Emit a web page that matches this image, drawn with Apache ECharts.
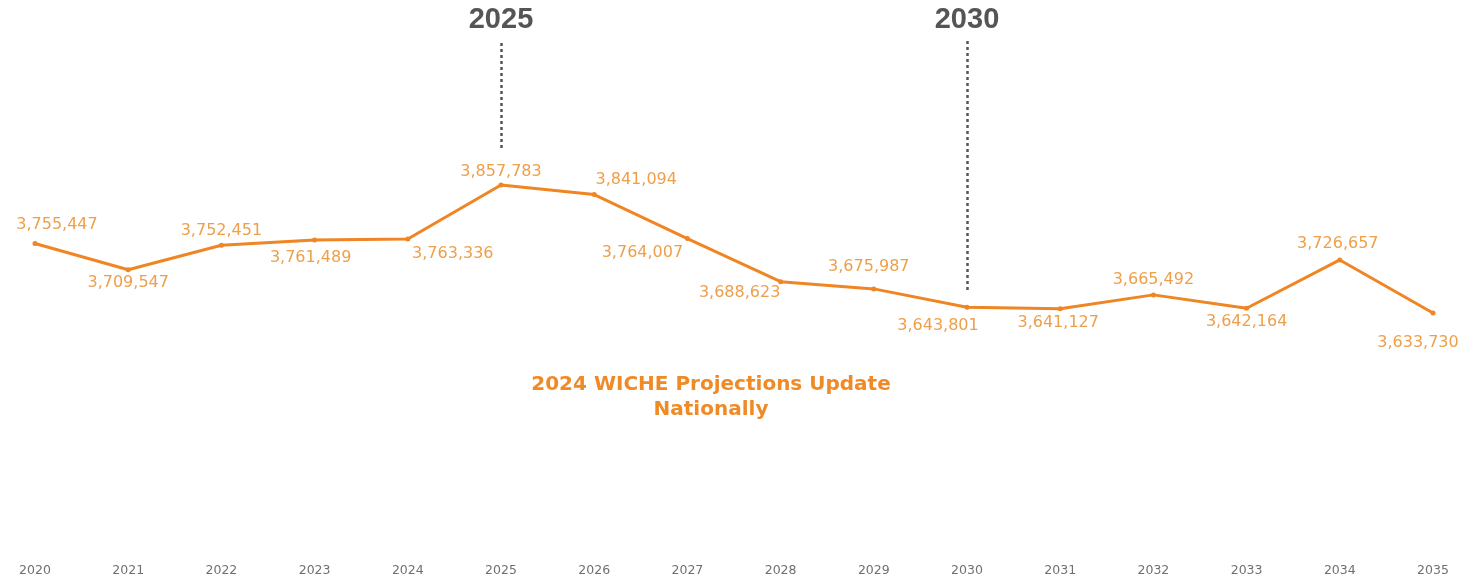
<!DOCTYPE html>
<html>
<head>
<meta charset="utf-8">
<script src="https://cdn.jsdelivr.net/npm/echarts@6/dist/echarts.min.js"></script>
<style>
html,body{margin:0;padding:0;background:#fff;}
#chart{width:1461px;height:581px;}
</style>
</head>
<body>
<div id="chart"></div>
<script>
// ---- data ----
var years = ['2020','2021','2022','2023','2024','2025','2026','2027','2028','2029','2030','2031','2032','2033','2034','2035'];
var graduates = [3755447,3709547,3752451,3761489,3763336,3857783,3841094,3764007,3688623,3675987,3643801,3641127,3665492,3642164,3726657,3633730];
var highlightYears = ['2025','2030'];
var titleLines = ['2024 WICHE Projections Update','Nationally'];

// ---- layout (label offsets relative to each point, px) ----
var labelOffsets = [
  [22,-19],[0,13],[0,-14],[-4,18],[45,15],[0,-13],[42,-15],[-45,14],
  [-41,11],[-5,-22],[-29,19],[-2,14],[0,-15],[0,14],[-2,-16],[-15,30]
];
// vertical extents of the highlight guides (in value units)
var guideTop = 4111600;
var guideBottoms = [3922500, 3674000];

var chart = echarts.init(document.getElementById('chart'));
var fmt = function(v){ return v.toString().replace(/\B(?=(\d{3})+(?!\d))/g, ','); };

var seriesData = graduates.map(function(v,i){
  return {
    value: v,
    label: { offset: labelOffsets[i] }
  };
});

var guideLines = highlightYears.map(function(y,i){
  return [
    { coord: [y, guideBottoms[i]] },
    { coord: [y, guideTop], label: { show: true, formatter: y } }
  ];
});

chart.setOption({
  backgroundColor: '#ffffff',
  animation: false,
  grid: { left: 35, right: 28, top: 18.1, bottom: 20.2 },
  xAxis: {
    type: 'category',
    data: years,
    boundaryGap: false,
    axisLine: { show: false },
    axisTick: { show: false },
    splitLine: { show: false },
    axisLabel: {
      margin: 3,
      color: '#707070',
      fontFamily: 'DejaVu Sans',
      fontSize: 12.5
    }
  },
  yAxis: {
    type: 'value',
    min: 3200000,
    max: 4150000,
    show: false,
    splitLine: { show: false }
  },
  graphic: [{
    type: 'text',
    x: 711,
    y: 372,
    style: {
      text: titleLines.join('\n'),
      textAlign: 'center',
      fill: '#EF8A26',
      font: 'bold 20px "DejaVu Sans"',
      lineHeight: 25
    }
  }],
  series: [{
    type: 'line',
    data: seriesData,
    clip: false,
    symbol: 'circle',
    symbolSize: 5,
    lineStyle: { color: '#EF8523', width: 3 },
    itemStyle: { color: '#EF8523' },
    label: {
      show: true,
      position: 'inside',
      align: 'center',
      verticalAlign: 'middle',
      color: '#EE9F4A',
      fontFamily: 'DejaVu Sans',
      fontSize: 16,
      formatter: function(p){ return fmt(p.value); }
    },
    markLine: {
      silent: true,
      symbol: ['none','none'],
      animation: false,
      lineStyle: { color: '#555555', type: [3,3], width: 2.5 },
      label: {
        position: 'end',
        distance: 6,
        color: '#555555',
        fontFamily: 'Liberation Sans',
        fontWeight: 'bold',
        fontSize: 29
      },
      data: guideLines
    }
  }]
});
</script>
</body>
</html>
